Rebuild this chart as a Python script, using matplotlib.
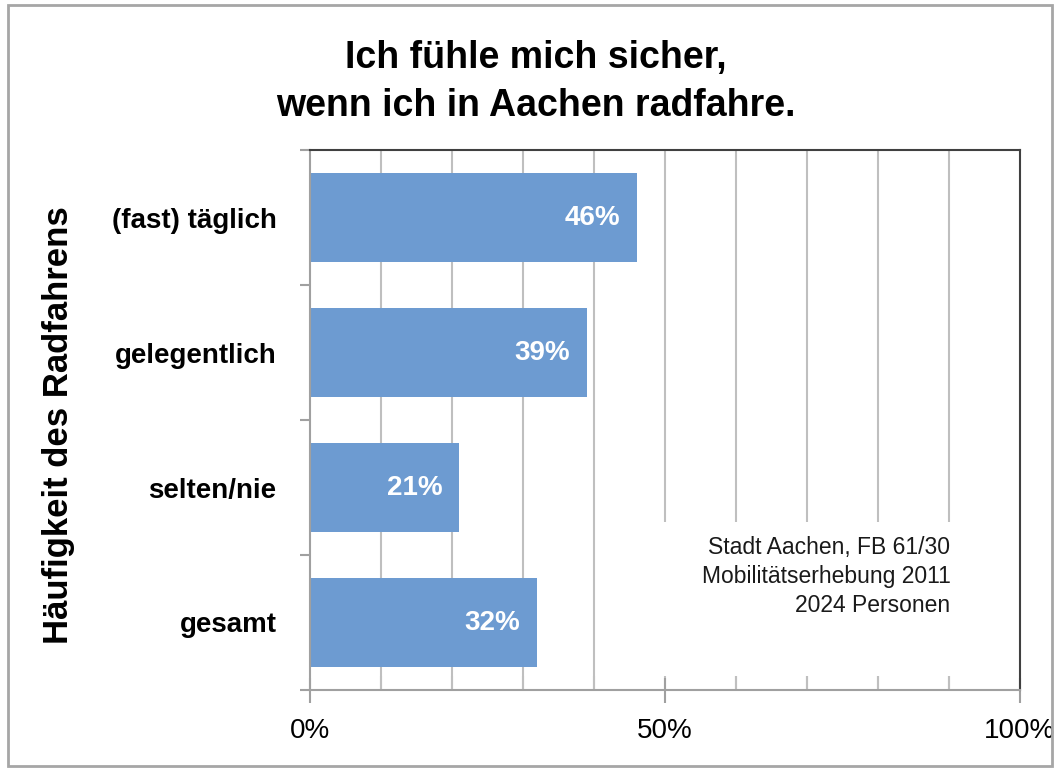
import matplotlib
matplotlib.use("Agg")
import matplotlib.pyplot as plt
from matplotlib.patches import Rectangle
from matplotlib.ticker import FixedLocator, PercentFormatter

# data
categories = ["(fast) täglich", "gelegentlich", "selten/nie", "gesamt"]
values = [0.46, 0.39, 0.21, 0.32]
bar_labels = ["46%", "39%", "21%", "32%"]
x_major = [0.0, 0.5, 1.0]
x_grid = [0.1, 0.2, 0.3, 0.4, 0.5, 0.6, 0.7, 0.8, 0.9]
title = "Ich fühle mich sicher,\nwenn ich in Aachen radfahre."
y_title = "Häufigkeit des Radfahrens"
source = "Stadt Aachen, FB 61/30\nMobilitätserhebung 2011\n2024 Personen"

narrow = ["Liberation Sans Narrow", "Liberation Sans", "DejaVu Sans"]
plt.rcParams["font.family"] = narrow

bar_color = "#6d9bd1"
grid_color = "#bfbfbf"
light_spine = "#a0a0a0"
dark_spine = "#404040"

fig = plt.figure(figsize=(10.57, 7.71), dpi=100)
ax = fig.add_axes([310 / 1057, 1 - 690 / 771, 710 / 1057, 540 / 771])

ypos = list(range(len(categories)))

# gridlines below everything
for g in x_grid:
    ax.axvline(g, color=grid_color, lw=1.5, zorder=0.5)

# white box behind the source note
ax.add_patch(Rectangle((0.46, 0.026), 0.535, 0.285, transform=ax.transAxes,
                       facecolor="white", edgecolor="none", zorder=1))
ax.text(0.902, 0.285, source, transform=ax.transAxes, ha="right", va="top",
        fontsize=16.5, linespacing=1.33, color="#1a1a1a", zorder=1.2)

bars = ax.barh(ypos, values, height=0.66, color=bar_color, zorder=2)
for b, lab in zip(bars, bar_labels):
    ax.annotate(lab, (b.get_width(), b.get_y() + b.get_height() / 2),
                xytext=(-12, 0), textcoords="offset points",
                ha="right", va="center", color="white",
                fontsize=20, fontweight="bold", zorder=3)

ax.set_xlim(0, 1)
ax.set_ylim(len(categories) - 0.5, -0.5)

ax.xaxis.set_major_locator(FixedLocator(x_major))
ax.xaxis.set_minor_locator(FixedLocator(x_grid))
ax.xaxis.set_major_formatter(PercentFormatter(1.0, decimals=0))
ax.tick_params(axis="x", which="major", direction="inout", length=18,
               width=1.5, color=light_spine, labelsize=20, pad=11)
ax.tick_params(axis="x", which="minor", direction="in", length=10,
               width=1.5, color=grid_color)

ax.set_yticks(ypos)
ax.set_yticklabels(categories, fontsize=20, fontweight="bold")
ax.set_yticks([y - 0.5 for y in ypos] + [len(categories) - 0.5], minor=True)
ax.tick_params(axis="y", which="major", length=0, pad=24)
ax.tick_params(axis="y", which="minor", direction="out", length=7,
               width=1.5, color=light_spine)

for side in ["left", "bottom"]:
    ax.spines[side].set_color(light_spine)
    ax.spines[side].set_linewidth(1.5)
for side in ["top", "right"]:
    ax.spines[side].set_color(dark_spine)
    ax.spines[side].set_linewidth(1.5)

fig.text(0.507, 0.894, title, ha="center", va="center", fontsize=27,
         fontweight="bold", linespacing=1.42)
fig.text(0.055, 0.449, y_title, ha="center", va="center", rotation=90,
         fontsize=25, fontweight="bold")

fig.add_artist(Rectangle((8 / 1057, 5 / 771), 1044 / 1057, 761 / 771,
                         transform=fig.transFigure, fill=False,
                         edgecolor="#a6a6a6", lw=2))

fig.savefig("out.png", dpi=100)
